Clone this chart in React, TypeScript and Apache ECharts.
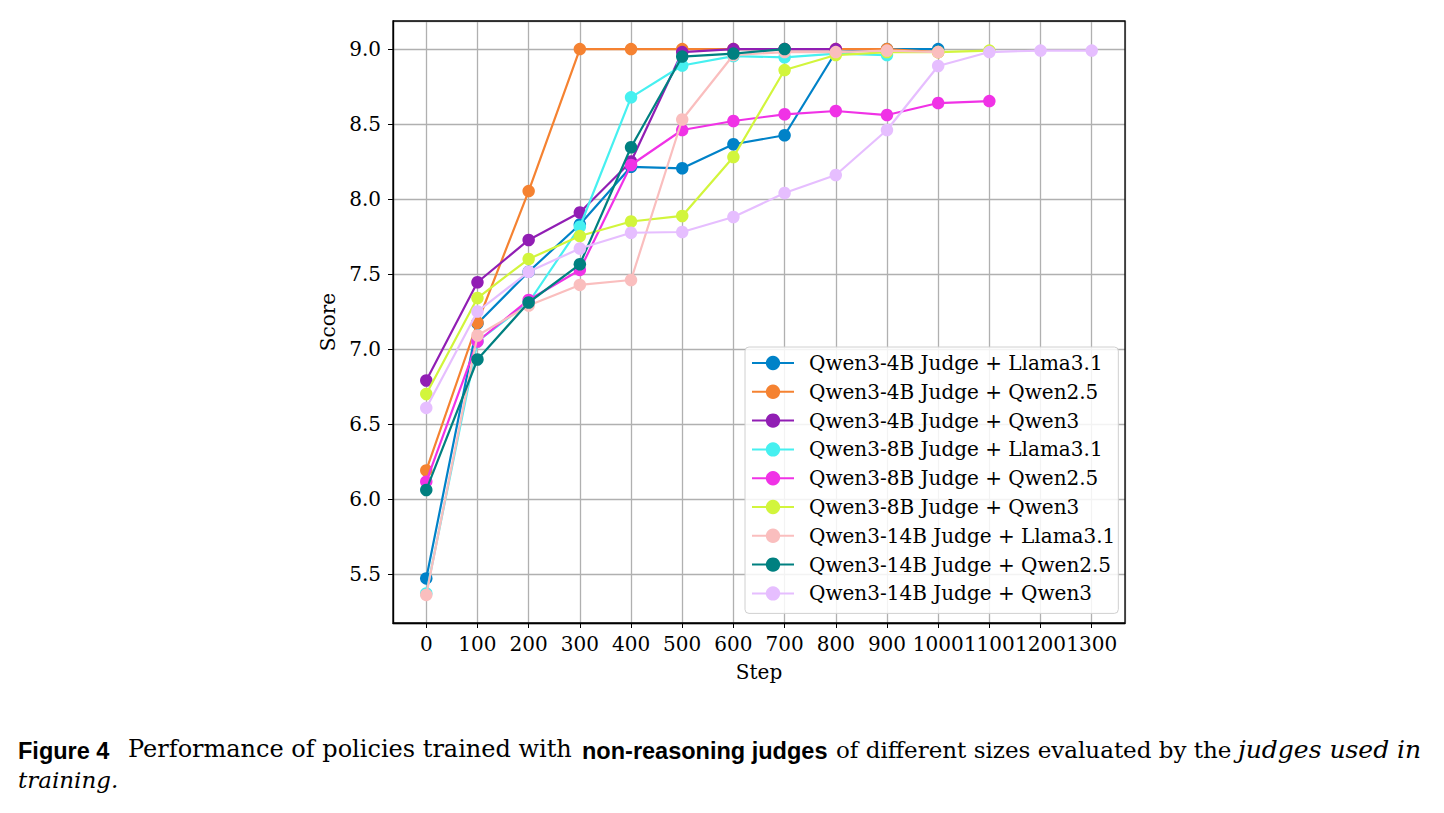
import React, { useEffect, useRef } from "react";
import * as echarts from "echarts";

const steps = [0, 100, 200, 300, 400, 500, 600, 700, 800, 900, 1000, 1100, 1200, 1300];

const seriesNames = [
  "Qwen3-4B Judge + Llama3.1",
  "Qwen3-4B Judge + Qwen2.5",
  "Qwen3-4B Judge + Qwen3",
  "Qwen3-8B Judge + Llama3.1",
  "Qwen3-8B Judge + Qwen2.5",
  "Qwen3-8B Judge + Qwen3",
  "Qwen3-14B Judge + Llama3.1",
  "Qwen3-14B Judge + Qwen2.5",
  "Qwen3-14B Judge + Qwen3",
];

const seriesColors = [
  "#0082c8",
  "#f58231",
  "#911eb4",
  "#46f0f0",
  "#f032e6",
  "#d2f53c",
  "#fabebe",
  "#008080",
  "#e6beff",
];

const q4Llama = [5.47, 7.17, 7.515, 7.83, 8.215, 8.205, 8.365, 8.425, 8.98, 9.0, 9.0];
const q4Qwen25 = [6.19, 7.175, 8.053, 9.0, 9.0, 9.0, 9.0, 9.0, 9.0, 9.0, 8.98];
const q4Qwen3 = [6.79, 7.445, 7.727, 7.91, 8.25, 8.98, 9.0, 9.0, 9.0];
const q8Llama = [5.37, 7.05, 7.31, 7.815, 8.678, 8.89, 8.953, 8.945, 8.97, 8.96];
const q8Qwen25 = [6.115, 7.05, 7.327, 7.527, 8.227, 8.46, 8.52, 8.565, 8.587, 8.56, 8.64, 8.653];
const q8Qwen3 = [6.7, 7.34, 7.6, 7.753, 7.85, 7.887, 8.28, 8.86, 8.96, 8.98, 8.98, 8.99];
const q14Llama = [5.36, 7.09, 7.29, 7.427, 7.46, 8.53, 8.96, 8.98, 8.98, 8.99, 8.98];
const q14Qwen25 = [6.06, 6.93, 7.31, 7.565, 8.345, 8.95, 8.97, 9.0];
const q14Qwen3 = [6.607, 7.25, 7.515, 7.67, 7.775, 7.78, 7.88, 8.04, 8.16, 8.46, 8.887, 8.98, 8.99, 8.99];

const seriesValues = [q4Llama, q4Qwen25, q4Qwen3, q8Llama, q8Qwen25, q8Qwen3, q14Llama, q14Qwen25, q14Qwen3];

const SERIF = "'DejaVu Serif', serif";
const SANS = "'Liberation Sans', Arial, sans-serif";
const FS = 20;

export default function App() {
  const ref = useRef<HTMLDivElement>(null);

  useEffect(() => {
    if (!ref.current) return;
    const chart = echarts.init(ref.current, undefined, { renderer: "svg" });

    const series = seriesValues.map((vals, i) => ({
      name: seriesNames[i],
      type: "line",
      data: vals.map((v, j) => [steps[j], v]),
      symbol: "circle",
      symbolSize: 12.5,
      showSymbol: true,
      clip: false,
      color: seriesColors[i],
      lineStyle: { width: 2.2, color: seriesColors[i] },
      itemStyle: { color: seriesColors[i] },
      emphasis: { disabled: true },
      z: 3 + i,
    }));

    chart.setOption({
      animation: false,
      backgroundColor: "#ffffff",
      grid: {
        left: 393,
        top: 21,
        width: 732,
        height: 602,
        show: true,
        borderColor: "#000",
        borderWidth: 1.3,
        backgroundColor: "transparent",
        z: 10,
      },
      xAxis: {
        type: "value",
        min: -65,
        max: 1365,
        splitNumber: 14,
        name: "Step",
        nameLocation: "middle",
        nameGap: 39,
        nameTextStyle: { fontFamily: SERIF, fontSize: FS, color: "#000" },
        axisLine: { show: true, onZero: false, lineStyle: { color: "#000", width: 1.3 } },
        axisTick: { show: true, length: 5, lineStyle: { color: "#000", width: 1 } },
        axisLabel: {
          fontFamily: SERIF,
          fontSize: FS,
          color: "#000",
          margin: 11,
          showMinLabel: false,
          showMaxLabel: false,
          hideOverlap: false,
          formatter: (v: number) => (v % 100 === 0 ? String(v) : ""),
        },
        splitLine: { show: true, lineStyle: { color: "#b0b0b0", width: 1.3 } },
      },
      yAxis: {
        type: "value",
        min: 5.173,
        max: 9.187,
        splitNumber: 8,
        name: "Score",
        nameLocation: "middle",
        nameGap: 53,
        nameTextStyle: { fontFamily: SERIF, fontSize: FS, color: "#000" },
        axisLine: { show: true, onZero: false, lineStyle: { color: "#000", width: 1.3 } },
        axisTick: { show: true, length: 5, lineStyle: { color: "#000", width: 1 } },
        axisLabel: {
          fontFamily: SERIF,
          fontSize: FS,
          color: "#000",
          margin: 12,
          showMinLabel: false,
          showMaxLabel: false,
          formatter: (v: number) => v.toFixed(1),
        },
        splitLine: { show: true, lineStyle: { color: "#b0b0b0", width: 1.3 } },
      },
      legend: {
        orient: "vertical",
        left: 745,
        top: 347,
        padding: [5, 3, 9, 6],
        itemGap: 6.8,
        itemWidth: 42,
        itemHeight: 18,
        backgroundColor: "rgba(255,255,255,0.85)",
        borderColor: "#d0d0d0",
        borderWidth: 1,
        borderRadius: 4,
        data: seriesNames,
        textStyle: {
          fontFamily: SERIF,
          fontSize: FS,
          color: "#000",
          lineHeight: 22,
          padding: [0, 0, 0, 10],
        },
        z: 20,
      },
      graphic: [
        {
          type: "text",
          left: 18,
          top: 739,
          style: { text: "Figure 4", font: `bold 23.5px ${SANS}`, fill: "#000" },
        },
        {
          type: "text",
          left: 128,
          top: 737,
          style: { text: "Performance of policies trained with", font: `24px ${SERIF}`, fill: "#000" },
        },
        {
          type: "text",
          left: 582,
          top: 739,
          style: { text: "non-reasoning judges", font: `bold 23.5px ${SANS}`, fill: "#000" },
        },
        {
          type: "text",
          left: 836,
          top: 738,
          style: { text: "of different sizes evaluated by the", font: `23px ${SERIF}`, fill: "#000" },
        },
        {
          type: "text",
          left: 1238,
          top: 737,
          style: { text: "judges used in", font: `italic 25px ${SERIF}`, fill: "#000" },
        },
        {
          type: "text",
          left: 18,
          top: 768,
          style: { text: "training.", font: `italic 23px ${SERIF}`, fill: "#000" },
        },
      ],
      series,
    });

    return () => chart.dispose();
  }, []);

  return (
    <div
      ref={ref}
      style={{ position: "absolute", left: 0, top: 0, width: 1444, height: 813, background: "#fff" }}
    />
  );
}
